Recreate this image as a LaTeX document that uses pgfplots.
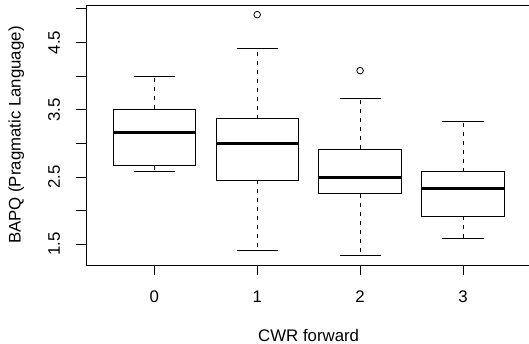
\documentclass[border=0pt]{standalone}
\usepackage{pgfplots}
\pgfplotsset{compat=1.18}
\usepgfplotslibrary{statistics}
\usepackage{fontspec}
\setmainfont{Liberation Sans}
\begin{document}
\begin{tikzpicture}
\path[use as bounding box] (-86.4bp,-78.7bp) rectangle (442.6bp,265.3bp);
\begin{axis}[
  at={(0,0)}, anchor=south west,
  scale only axis, width=444.5bp, height=260.3bp,
  xmin=-0.66, xmax=3.66, ymin=1.187, ymax=5.058,
  axis line style={line width=0.9bp, black},
  xtick={0,1,2,3}, xticklabels={0,1,2,3},
  ytick={1.5,2,2.5,3,3.5,4,4.5,5}, yticklabels={1.5,,2.5,,3.5,,4.5,},
  tick align=outside, major tick length=10bp,
  tick style={black, line width=0.9bp},
  xtick pos=lower, ytick pos=left,
  tick label style={font=\fontsize{16.8bp}{20bp}\selectfont},
  xticklabel style={anchor=base, yshift=-27.4bp},
  yticklabel style={xshift=-16.4bp, rotate=90, anchor=base},
  xlabel={CWR forward}, ylabel={BAPQ (Pragmatic Language)},
  label style={font=\fontsize{16.8bp}{20bp}\selectfont},
  xlabel style={at={(axis description cs:0.5,-0.2935)}, anchor=base},
  ylabel style={at={(axis description cs:-0.1478,0.5)}, anchor=base},
  boxplot/draw direction=y,
  boxplot/every whisker/.style={dash pattern=on 4bp off 5bp},
  boxplot/every median/.style={line width=3bp},
  boxplot/box extend=0.8, boxplot/whisker extend=0,
]
\addplot[black, line width=0.9bp, boxplot prepared={draw position=0, lower whisker=2.58, lower quartile=2.67, median=3.165, upper quartile=3.505, upper whisker=4.0}] coordinates {};
\addplot[black, line width=0.9bp, boxplot prepared={draw position=1, lower whisker=1.415, lower quartile=2.455, median=2.998, upper quartile=3.37, upper whisker=4.415}] coordinates {};
\addplot[black, line width=0.9bp, boxplot prepared={draw position=2, lower whisker=1.329, lower quartile=2.251, median=2.50, upper quartile=2.912, upper whisker=3.665}] coordinates {};
\addplot[black, line width=0.9bp, boxplot prepared={draw position=3, lower whisker=1.582, lower quartile=1.915, median=2.332, upper quartile=2.579, upper whisker=3.333}] coordinates {};
% whisker caps
\addplot[black, line width=0.9bp] coordinates {(-0.2,2.58) (0.2,2.58)};
\addplot[black, line width=0.9bp] coordinates {(-0.2,4.0) (0.2,4.0)};
\addplot[black, line width=0.9bp] coordinates {(0.8,1.415) (1.2,1.415)};
\addplot[black, line width=0.9bp] coordinates {(0.8,4.415) (1.2,4.415)};
\addplot[black, line width=0.9bp] coordinates {(1.8,1.329) (2.2,1.329)};
\addplot[black, line width=0.9bp] coordinates {(1.8,3.665) (2.2,3.665)};
\addplot[black, line width=0.9bp] coordinates {(2.8,1.582) (3.2,1.582)};
\addplot[black, line width=0.9bp] coordinates {(2.8,3.333) (3.2,3.333)};
% outliers
\addplot[only marks, mark=o, mark size=3.3bp, mark options={line width=0.8bp, black}] coordinates {(1,4.915) (2,4.082)};
\end{axis}
\end{tikzpicture}
\end{document}
